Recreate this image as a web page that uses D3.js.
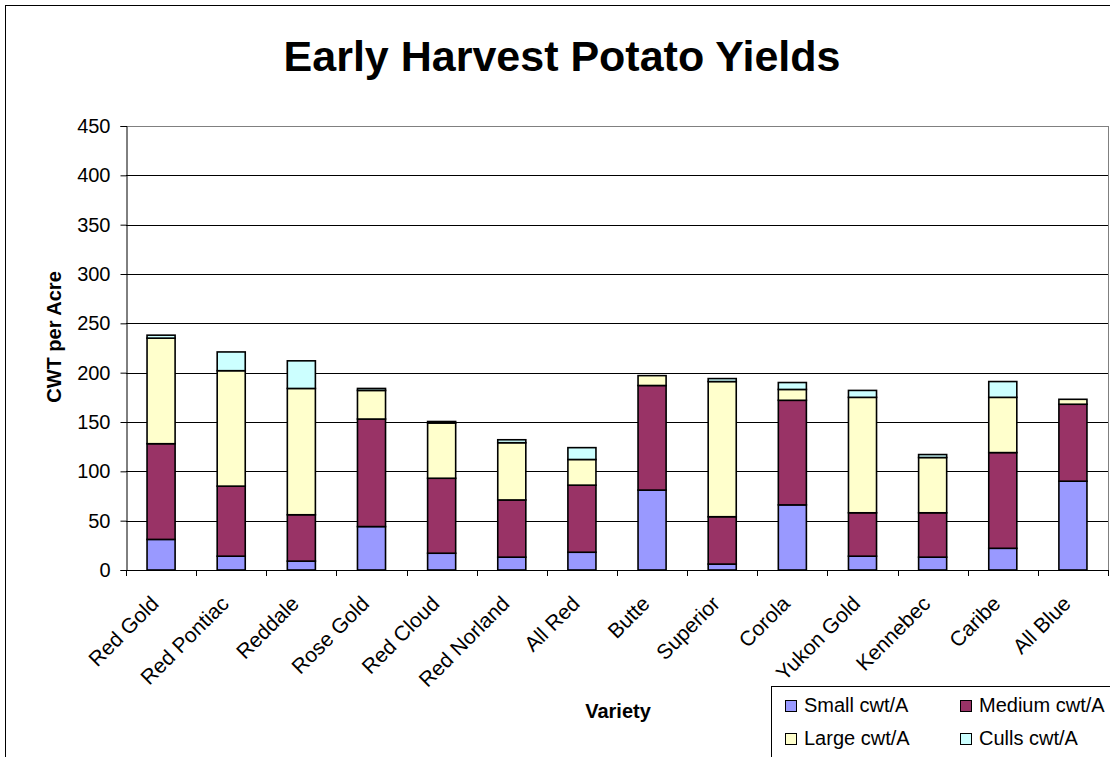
<!DOCTYPE html>
<html>
<head>
<meta charset="utf-8">
<script src="https://cdn.jsdelivr.net/npm/d3@7"></script>
<style>
  body { margin: 0; background: #fff; }
  svg { display: block; font-family: 'Liberation Sans', Arial, sans-serif; }
</style>
</head>
<body>
<div id="chart"></div>
<script>
// Varieties along the x axis
const varieties = ['Red Gold', 'Red Pontiac', 'Reddale', 'Rose Gold', 'Red Cloud', 'Red Norland', 'All Red',
  'Butte', 'Superior', 'Corola', 'Yukon Gold', 'Kennebec', 'Caribe', 'All Blue']

// Series values (cwt per acre)
const small = [31, 14, 9, 44, 17, 13, 18, 81, 6, 66, 14, 13, 22, 90]
const medium = [97, 71, 47, 109, 76, 58, 68, 106, 48, 106, 44, 45, 97, 78]
const large = [107, 117, 128, 29, 56, 58, 26, 10, 137, 11, 117, 56, 56, 5]
const culls = [3, 19, 28, 2, 1.5, 3, 12, 0, 3, 7, 7, 3, 16, 0]

const seriesNames = ['Small cwt/A', 'Medium cwt/A', 'Large cwt/A', 'Culls cwt/A']
const seriesKeys = ['small', 'medium', 'large', 'culls']
const seriesColors = ['#9999FF', '#993366', '#FFFFCC', '#CCFFFF']

const yTicks = [0, 50, 100, 150, 200, 250, 300, 350, 400, 450]

;(function () {
  /** * ------------------ Set Up ------------------ ***/
  const width = 1110
  const height = 757
  const plot = { left: 126, right: 1108, top: 126, bottom: 570 }

  const data = varieties.map((v, i) => ({
    variety: v, small: small[i], medium: medium[i], large: large[i], culls: culls[i]
  }))

  const svg = d3.select('#chart').append('svg')
    .attr('width', width)
    .attr('height', height)

  // chart border (cropped on the right and bottom like the original)
  svg.append('rect')
    .attr('x', 5.5).attr('y', 5.5)
    .attr('width', width + 20).attr('height', height + 20)
    .attr('fill', '#fff').attr('stroke', '#000')

  /** * ------------------ Scales ------------------ ***/
  const x = d3.scaleBand()
    .domain(varieties)
    .range([plot.left, plot.right])
    .padding(0)

  const y = d3.scaleLinear()
    .domain([0, 450])
    .range([plot.bottom, plot.top])

  const step = x.step()
  const barW = step * 0.4

  /** * ------------------ Grid -------------------- ***/
  svg.append('g')
    .selectAll('line')
    .data(yTicks.filter(d => d > 0))
    .enter().append('line')
    .attr('x1', plot.left).attr('x2', plot.right)
    .attr('y1', d => Math.round(y(d)) + 0.5).attr('y2', d => Math.round(y(d)) + 0.5)
    .attr('stroke', d => d === 450 ? '#808080' : '#000')

  // right border of the plot area
  svg.append('line')
    .attr('x1', plot.right + 0.5).attr('x2', plot.right + 0.5)
    .attr('y1', plot.top).attr('y2', plot.bottom)
    .attr('stroke', '#808080')

  /** * ------------------ Bars -------------------- ***/
  const stacked = d3.stack().keys(seriesKeys)(data)

  svg.append('g')
    .selectAll('g')
    .data(stacked)
    .enter().append('g')
    .attr('fill', (d, i) => seriesColors[i])
    .selectAll('rect')
    .data(d => d)
    .enter().append('rect')
    .attr('x', d => x(d.data.variety) + (step - barW) / 2)
    .attr('y', d => y(d[1]))
    .attr('width', barW)
    .attr('height', d => y(d[0]) - y(d[1]))
    .attr('stroke', '#000')
    .attr('stroke-width', 1.6)

  /** * ------------------ Axes -------------------- ***/
  const yAxis = d3.axisLeft(y)
    .tickValues(yTicks)
    .tickSize(6)
    .tickPadding(10)

  const gy = svg.append('g')
    .attr('transform', 'translate(' + (plot.left + 0.5) + ',0)')
    .call(yAxis)
  gy.select('.domain').attr('stroke', '#000')
  gy.selectAll('.tick line').attr('stroke', '#000')
  gy.selectAll('text')
    .attr('font-size', 20)
    .attr('fill', '#000')
    .attr('font-family', "'Liberation Sans', Arial, sans-serif")

  // x axis: ticks on the category boundaries
  const boundaries = varieties.map(v => x(v)).concat([plot.right])
  const gx = svg.append('g')
  gx.append('line')
    .attr('x1', plot.left).attr('x2', plot.right)
    .attr('y1', plot.bottom + 0.5).attr('y2', plot.bottom + 0.5)
    .attr('stroke', '#000')
  gx.selectAll('.xtick')
    .data(boundaries)
    .enter().append('line')
    .attr('class', 'xtick')
    .attr('x1', d => Math.round(d) + 0.5).attr('x2', d => Math.round(d) + 0.5)
    .attr('y1', plot.bottom).attr('y2', plot.bottom + 6)
    .attr('stroke', '#000')

  gx.selectAll('.xlabel')
    .data(varieties)
    .enter().append('text')
    .attr('class', 'xlabel')
    .attr('transform', d => 'translate(' + (x(d) + step / 2 - 1) + ',' + (plot.bottom + 35) + ') rotate(-45)')
    .attr('text-anchor', 'end')
    .attr('font-size', 21)
    .text(d => d)

  /** * ------------------ Titles ------------------ ***/
  svg.append('text')
    .attr('x', 562)
    .attr('y', 71)
    .attr('text-anchor', 'middle')
    .attr('font-size', 43)
    .attr('font-weight', 'bold')
    .text('Early Harvest Potato Yields')

  svg.append('text')
    .attr('transform', 'translate(61,' + 337 + ') rotate(-90)')
    .attr('text-anchor', 'middle')
    .attr('font-size', 20)
    .attr('font-weight', 'bold')
    .text('CWT per Acre')

  svg.append('text')
    .attr('x', 618)
    .attr('y', 718)
    .attr('text-anchor', 'middle')
    .attr('font-size', 20)
    .attr('font-weight', 'bold')
    .text('Variety')

  /** * ------------------ Legend ------------------ ***/
  const legend = svg.append('g')
  legend.append('rect')
    .attr('x', 771.5).attr('y', 686.5)
    .attr('width', 400).attr('height', 120)
    .attr('fill', '#fff').attr('stroke', '#000')

  const items = legend.selectAll('.item')
    .data(seriesNames)
    .enter().append('g')
    .attr('class', 'item')
    .attr('transform', (d, i) => 'translate(' + (785 + (i % 2) * 175) + ',' + (700 + Math.floor(i / 2) * 33) + ')')

  items.append('rect')
    .attr('x', 0.5).attr('y', 0.5)
    .attr('width', 11).attr('height', 11)
    .attr('fill', (d, i) => seriesColors[i])
    .attr('stroke', '#000')

  items.append('text')
    .attr('x', 19)
    .attr('y', 12)
    .attr('font-size', 20)
    .text(d => d)
}())
</script>
</body>
</html>
